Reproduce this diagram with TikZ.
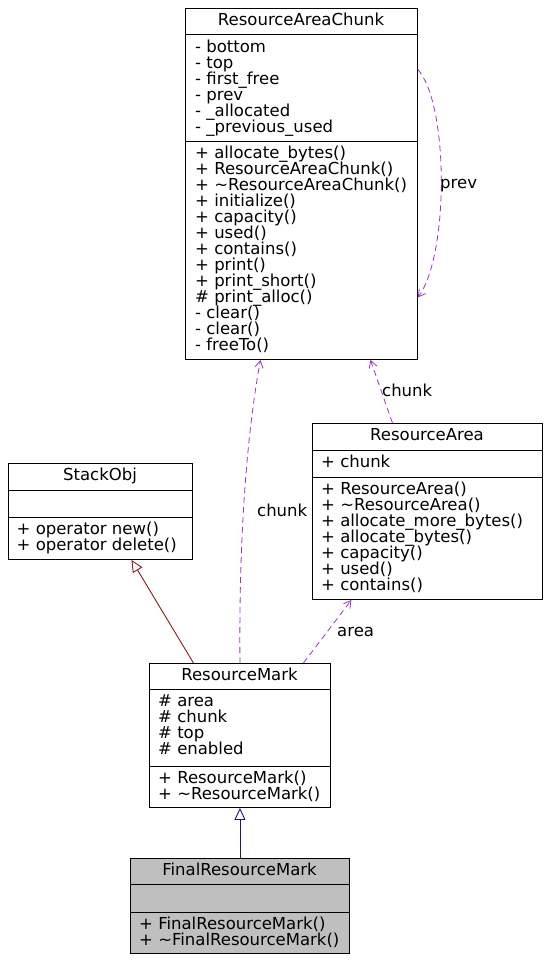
\documentclass[tikz,border=0pt]{standalone}
\usepackage{fontspec}
\setmainfont{DejaVu Sans}
\usetikzlibrary{arrows.meta}
\definecolor{usagecol}{HTML}{9A32CD}
\definecolor{privcol}{HTML}{8B1A1A}
\definecolor{pubcol}{HTML}{191970}
\definecolor{finalfill}{HTML}{BFBFBF}
\tikzset{
  classbox/.style={draw=black, line width=0.9pt, inner sep=0pt, anchor=north west},
  sepline/.style={draw=black, line width=0.9pt},
  txt/.style={inner sep=0pt, anchor=base west},
  ttl/.style={inner sep=0pt, anchor=base},
  usage/.style={draw=usagecol, line width=0.8pt, dash pattern=on 6pt off 4pt, -{Straight Barb[length=7pt,width=8pt,line width=0.8pt]}},
  inhpriv/.style={draw=privcol, line width=0.9pt, -{Triangle[open,length=12pt,width=11pt,fill=white,line width=0.9pt]}},
  inhpub/.style={draw=pubcol, line width=0.9pt, -{Triangle[open,length=12pt,width=11pt,fill=white,line width=0.9pt]}},
  elabel/.style={inner sep=0pt, anchor=base west}
}
\newcommand\umllines[4]{%
  \foreach \t [count=\i] in {#4} {
    \node[txt] (#1-\i) at (#2, {#3+16*(\i-1)}) {\t};
  }%
}
\begin{document}
\begin{tikzpicture}[x=1pt,y=-1pt,font=\fontsize{16.5}{16}\selectfont]
\useasboundingbox (0,0) rectangle (551,962);

% ResourceAreaChunk
\node[classbox, minimum width=232pt, minimum height=351pt] (rac) at (185,8) {};
\draw[sepline] (185,34) -- (417,34);
\draw[sepline] (185,141) -- (417,141);
\node[ttl] (rac-t) at (301,25) {ResourceAreaChunk};
\umllines{raca}{195}{52}{- bottom, - top, - first\_free, - prev, - \_allocated, - \_previous\_used}
\umllines{racm}{195}{158}{+ allocate\_bytes(), + ResourceAreaChunk(), + \textasciitilde ResourceAreaChunk(), + initialize(), + capacity(), + used(), + contains(), + print(), + print\_short(), \# print\_alloc(), - clear(), - clear(), - freeTo()}

% StackObj
\node[classbox, minimum width=184pt, minimum height=96pt] (so) at (8,463) {};
\draw[sepline] (8,490) -- (192,490);
\draw[sepline] (8,517) -- (192,517);
\node[ttl] (so-t) at (100,480) {StackObj};
\umllines{som}{16.5}{534}{+ operator new(), + operator delete()}

% ResourceArea
\node[classbox, minimum width=230pt, minimum height=176pt] (ra) at (312,423) {};
\draw[sepline] (312,450) -- (542,450);
\draw[sepline] (312,477) -- (542,477);
\node[ttl] (ra-t) at (427,440) {ResourceArea};
\umllines{raa}{321}{467}{+ chunk}
\umllines{ram}{321}{494}{+ ResourceArea(), + \textasciitilde ResourceArea(), + allocate\_more\_bytes(), + allocate\_bytes(), + capacity(), + used(), + contains()}

% ResourceMark
\node[classbox, minimum width=181pt, minimum height=144pt] (rm) at (149,663) {};
\draw[sepline] (149,689) -- (330,689);
\draw[sepline] (149,766) -- (330,766);
\node[ttl] (rm-t) at (239.5,680) {ResourceMark};
\umllines{rma}{158}{706}{\# area, \# chunk, \# top, \# enabled}
\umllines{rmm}{158}{783}{+ ResourceMark(), + \textasciitilde ResourceMark()}

% FinalResourceMark
\node[classbox, fill=finalfill, minimum width=219pt, minimum height=95pt] (frm) at (130,858) {};
\draw[sepline] (130,884) -- (349,884);
\draw[sepline] (130,912) -- (349,912);
\node[ttl] (frm-t) at (239.5,875) {FinalResourceMark};
\umllines{frmm}{139}{929}{+ FinalResourceMark(), + \textasciitilde FinalResourceMark()}

% connectors
\draw[usage] ([yshift=114.5pt]rac.east) .. controls (449,105) and (449,255) .. ([yshift=-113.5pt]rac.east);
\node[elabel] (lprev) at (440,188) {prev};

\draw[usage] ([xshift=-35pt]ra.north) -- ([xshift=69pt]rac.south);
\node[elabel] (lchunk1) at (382,396) {chunk};

\draw[usage] (rm.north) .. controls (239,560) and (244,450) .. ([xshift=-41pt]rac.south);
\node[elabel] (lchunk2) at (257,516) {chunk};

\draw[usage] ([xshift=63.5pt]rm.north) -- ([xshift=-76pt]ra.south);
\node[elabel] (larea) at (337,636) {area};

\draw[inhpriv] ([xshift=-46.5pt]rm.north) -- ([xshift=31pt]so.south);
\draw[inhpub] (frm.north) -- (rm.south);
\end{tikzpicture}
\end{document}
